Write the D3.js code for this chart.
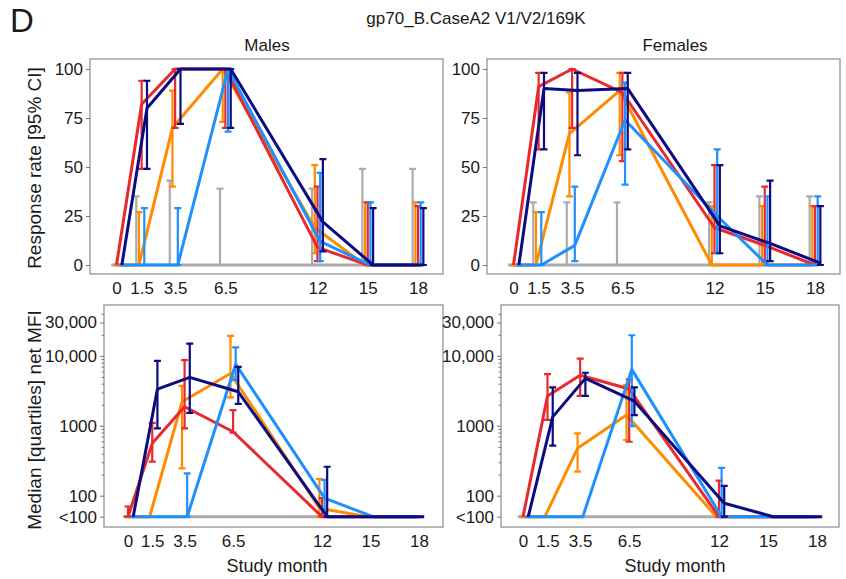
<!DOCTYPE html>
<html>
<head>
<meta charset="utf-8">
<script src="https://cdn.jsdelivr.net/npm/d3@7"></script>
<style>
  body { margin: 0; background: #fff; }
  text { font-family: "Liberation Sans", Arial, sans-serif; fill: #1a1a1a; }
</style>
</head>
<body>
<script>
// study months and the five groups (grey, orange, red, light blue, navy)
var months = [0, 1.5, 3.5, 6.5, 12, 15, 18];
var groupKeys = ["grey", "orange", "red", "blue", "navy"];
var groupColours = ["#ababab", "#ff8c00", "#e8292d", "#1e90ff", "#0b0b82"];
var dodge = [-0.32, -0.16, 0, 0.16, 0.32]; // months, side by side at each visit

var rateTicks = [0, 25, 50, 75, 100];
var mfiTicks = [50, 100, 1000, 10000, 30000];
var mfiTickLabels = ["<100", "100", "1000", "10,000", "30,000"];
var mfiMinorTicks = [200, 300, 400, 500, 600, 700, 800, 900, 2000, 3000, 4000, 5000, 6000, 7000, 8000, 9000, 20000, 40000];

// response rate [95% CI], males
var maleRateMid = [
  [0, 0, 0, 0, 0, 0, 0],
  [0, 0, 70, 100, 19, 0, 0],
  [0, 82, 100, 100, 9, 0, 0],
  [0, 0, 0, 100, 12, 0, 0],
  [0, 80, 100, 100, 22, 0, 0]
];
var maleRateLo = [
  [null, 0, 0, 0, 0, 0, 0],
  [null, 0, 40, 73, 6, 0, 0],
  [null, 49, 70, 70, 2, 0, 0],
  [null, 0, 0, 68, 2, 0, 0],
  [null, 49, 72, 70, 7, 0, 0]
];
var maleRateHi = [
  [null, 35, 43, 39, 39, 49, 49],
  [null, 27, 89, 100, 51, 32, 32],
  [null, 94, 100, 100, 40, 32, 30],
  [null, 29, 29, 100, 47, 32, 32],
  [null, 94, 100, 100, 54, 29, 29]
];

// response rate [95% CI], females
var femaleRateMid = [
  [0, 0, 0, 0, 0, 0, 0],
  [0, 0, 67, 89, 0, 0, 0],
  [0, 91, 100, 88, 19, 10, 0],
  [0, 0, 10, 74, 25, 0, 0],
  [0, 90, 89, 90, 20, 11, 1]
];
var femaleRateLo = [
  [null, 0, 0, 0, 0, 0, 0],
  [null, 0, 35, 56, 0, 0, 0],
  [null, 59, 70, 53, 6, 2, 0],
  [null, 0, 2, 41, 6, 0, 0],
  [null, 59, 56, 59, 6, 2, 0]
];
var femaleRateHi = [
  [null, 32, 32, 32, 32, 35, 35],
  [null, 27, 88, 98, 30, 30, 30],
  [null, 98, 100, 98, 51, 40, 30],
  [null, 27, 40, 93, 59, 35, 35],
  [null, 98, 98, 98, 51, 43, 30]
];

// median [quartiles] net MFI, males (50 = "<100")
var maleMfiMid = [
  [50, 50, 50, 50, 50, 50, 50],
  [50, 50, 2200, 5600, 66, 50, 50],
  [50, 560, 1870, 820, 50, 50, 50],
  [50, 50, 50, 7600, 92, 50, 50],
  [50, 3350, 4930, 3060, 50, 50, 50]
];
var maleMfiLo = [
  [null, null, null, null, null, null, null],
  [null, null, 246, 2540, 50, null, null],
  [50, 306, 915, 800, 50, null, null],
  [null, null, 50, 4500, 59, null, null],
  [null, 915, 1530, 2050, 50, null, null]
];
var maleMfiHi = [
  [null, null, null, null, null, null, null],
  [null, null, 3720, 19300, 173, null, null],
  [70, 1100, 8680, 1670, 92, null, null],
  [null, null, 209, 13200, 168, null, null],
  [null, 8450, 15000, 6960, 259, null, null]
];

// median [quartiles] net MFI, females
var femaleMfiMid = [
  [50, 50, 50, 50, 50, 50, 50],
  [50, 50, 476, 1420, 50, 50, 50],
  [50, 2670, 5280, 3350, 50, 50, 50],
  [50, 50, 50, 6400, 50, 50, 50],
  [50, 1340, 4760, 2250, 78, 50, 50]
];
var femaleMfiLo = [
  [null, null, null, null, null, null, null],
  [null, null, 220, 625, null, null, null],
  [null, 1210, 2670, 590, 50, null, null],
  [null, null, null, 990, 50, null, null],
  [null, 518, 2670, 1420, 50, null, null]
];
var femaleMfiHi = [
  [null, null, null, null, null, null, null],
  [null, null, 780, 3820, null, null, null],
  [null, 5490, 9150, 4600, 164, null, null],
  [null, null, null, 19700, 250, null, null],
  [null, 3540, 5730, 3540, 138, null, null]
];

var svg = d3.select("body").append("svg")
  .attr("width", 846)
  .attr("height", 579);

var frameColour = "#a3a3a3";

function buildSeries(mid, lo, hi) {
  return groupKeys.map(function(k, i) {
    return {
      key: k,
      colour: groupColours[i],
      pts: months.map(function(m, j) {
        return {m: m + dodge[i], v: mid[i][j], lo: lo[i][j], hi: hi[i][j]};
      })
    };
  });
}

function drawPanel(p) {
  var g = svg.append("g");
  g.append("rect")
    .attr("x", p.left).attr("y", p.top)
    .attr("width", p.right - p.left).attr("height", p.bottom - p.top)
    .attr("fill", "#fff")
    .attr("stroke", frameColour)
    .attr("stroke-width", 1.5);

  var x = d3.scaleLinear().domain([0, 18]).range(p.xRange);
  var y = p.y;

  // y axis
  var yAxis = d3.axisLeft(y).tickValues(p.ticks).tickSize(4).tickPadding(3)
    .tickFormat(function(d, i) { return p.tickLabels[i]; });
  var ya = g.append("g").attr("transform", "translate(" + p.left + ",0)").call(yAxis);
  ya.select(".domain").remove();
  ya.selectAll(".tick line").attr("stroke", "#777");
  ya.selectAll(".tick text").attr("font-size", p.yFont).attr("fill", "#1a1a1a")
    .attr("font-family", "Liberation Sans, Arial, sans-serif");
  if (p.minor) {
    var ym = g.append("g").attr("transform", "translate(" + p.left + ",0)")
      .call(d3.axisLeft(y).tickValues(p.minor).tickSize(2.5).tickFormat(""));
    ym.select(".domain").remove();
    ym.selectAll(".tick line").attr("stroke", "#777");
  }

  // x axis labels, no tick marks
  var xa = g.append("g").attr("transform", "translate(0," + p.bottom + ")")
    .call(d3.axisBottom(x).tickValues(months).tickSize(0).tickPadding(p.xPad)
      .tickFormat(function(d) { return String(d); }));
  xa.select(".domain").remove();
  xa.selectAll(".tick text").attr("font-size", 17).attr("fill", "#1a1a1a")
    .attr("font-family", "Liberation Sans, Arial, sans-serif");

  var series = buildSeries(p.mid, p.lo, p.hi);
  var line = d3.line()
    .x(function(d) { return x(d.m); })
    .y(function(d) { return y(d.v); });

  series.forEach(function(s) {
    var bars = s.pts.filter(function(d) { return d.lo != null && d.hi != null; });
    var eb = g.append("g").attr("stroke", s.colour).attr("stroke-width", 2.2).attr("fill", "none");
    eb.selectAll("path").data(bars).enter().append("path")
      .attr("d", function(d) {
        var cx = x(d.m), y0 = y(d.lo), y1 = y(d.hi), w = 3.5;
        return "M" + cx + "," + y0 + "V" + y1 +
          "M" + (cx - w) + "," + y1 + "H" + (cx + w) +
          "M" + (cx - w) + "," + y0 + "H" + (cx + w);
      });
    g.append("path")
      .datum(s.pts)
      .attr("d", line)
      .attr("fill", "none")
      .attr("stroke", s.colour)
      .attr("stroke-width", 3)
      .attr("stroke-linejoin", "round");
  });
}

var rateY = d3.scaleLinear().domain([0, 100]).range([265, 69]);
var mfiY = d3.scaleLog().domain([50, 30000]).range([516.7, 322.5]);

drawPanel({left: 90, right: 443, top: 59, bottom: 274, xRange: [116.5, 418], xPad: 8,
  y: rateY, ticks: rateTicks, tickLabels: rateTicks.map(String), yFont: 17,
  mid: maleRateMid, lo: maleRateLo, hi: maleRateHi});
drawPanel({left: 487, right: 840, top: 59, bottom: 274, xRange: [513.5, 815], xPad: 8,
  y: rateY, ticks: rateTicks, tickLabels: rateTicks.map(String), yFont: 17,
  mid: femaleRateMid, lo: femaleRateLo, hi: femaleRateHi});
drawPanel({left: 104, right: 443, top: 305, bottom: 527, xRange: [128, 419], xPad: 8,
  y: mfiY, ticks: mfiTicks, tickLabels: mfiTickLabels, minor: mfiMinorTicks, yFont: 17,
  mid: maleMfiMid, lo: maleMfiLo, hi: maleMfiHi});
drawPanel({left: 501, right: 839, top: 305, bottom: 527, xRange: [523, 817], xPad: 8,
  y: mfiY, ticks: mfiTicks, tickLabels: mfiTickLabels, minor: mfiMinorTicks, yFont: 17,
  mid: femaleMfiMid, lo: femaleMfiLo, hi: femaleMfiHi});

// titles
svg.append("text").attr("x", 10).attr("y", 32).attr("font-size", 33).text("D");
svg.append("text").attr("x", 476).attr("y", 24).attr("text-anchor", "middle")
  .attr("font-size", 17).text("gp70_B.CaseA2 V1/V2/169K");
svg.append("text").attr("x", 267).attr("y", 51).attr("text-anchor", "middle")
  .attr("font-size", 17).text("Males");
svg.append("text").attr("x", 675).attr("y", 51).attr("text-anchor", "middle")
  .attr("font-size", 17).text("Females");
svg.append("text").attr("transform", "translate(41,168) rotate(-90)")
  .attr("text-anchor", "middle").attr("font-size", 19).text("Response rate [95% CI]");
svg.append("text").attr("transform", "translate(41,420) rotate(-90)")
  .attr("text-anchor", "middle").attr("font-size", 19).text("Median [quartiles] net MFI");
svg.append("text").attr("x", 277).attr("y", 572).attr("text-anchor", "middle")
  .attr("font-size", 18).text("Study month");
svg.append("text").attr("x", 675).attr("y", 572).attr("text-anchor", "middle")
  .attr("font-size", 18).text("Study month");
</script>
</body>
</html>
